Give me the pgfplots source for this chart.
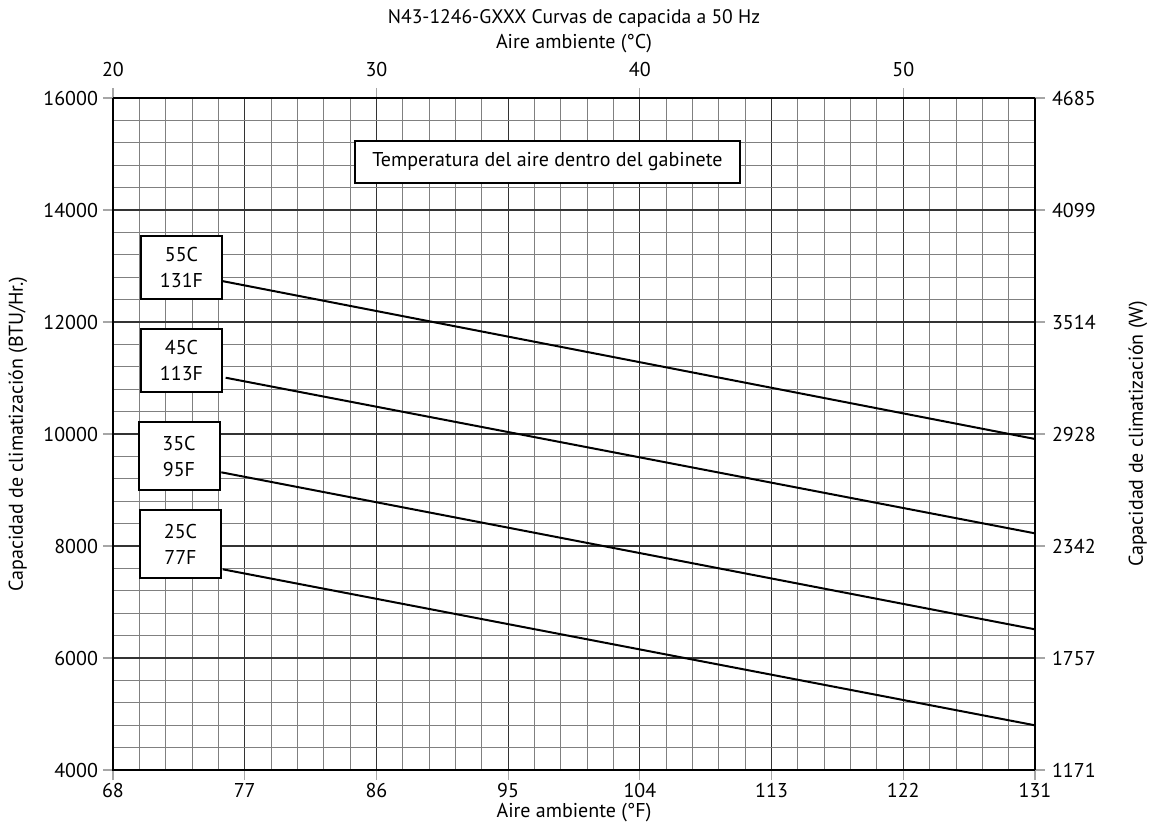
\documentclass[border=0pt]{standalone}
\usepackage{pgfplots}
\pgfplotsset{compat=1.18}
\usepackage{fontspec}
\setmainfont{PT Sans}
\begin{document}
\begin{tikzpicture}
\useasboundingbox (-56.5pt,-33.5pt) rectangle (519pt,385pt);
\begin{axis}[
 name=main,
 scale only axis, width=461pt, height=336pt,
 xmin=68, xmax=131, ymin=4000, ymax=16000,
 xtick={68,77,...,131}, ytick={4000,6000,...,16000},
 scaled ticks=false,
 minor x tick num=4, minor y tick num=4,
 grid=both,
 major grid style={black!80, line width=0.6pt},
 minor grid style={black!50, line width=0.45pt},
 xtick pos=bottom, ytick pos=left,
 tick align=outside,
 major tick length=5pt, minor tick length=0pt,
 tick style={black!35, line width=0.6pt},
 axis line style={black, line width=1pt},
 /pgf/number format/assume math mode=true,
 /pgf/number format/1000 sep={},
 ticklabel style={font=\fontsize{10}{12}\selectfont},
 xticklabel style={yshift=2pt},
 yticklabel style={xshift=1pt},
 xlabel={Aire ambiente (°F)},
 ylabel={Capacidad de climatización (BTU/Hr.)},
 label style={font=\fontsize{10}{12}\selectfont},
 xlabel style={at={(axis description cs:0.5,0)}, anchor=center, yshift=-21.5pt},
 ylabel style={at={(axis description cs:0,0.5)}, anchor=center, yshift=47.5pt},
 clip=false,
]
\addplot[black, line width=1pt] coordinates {(75.45,12732) (131,9911)};
\addplot[black, line width=1pt] coordinates {(75.70,11005) (131,8226)};
\addplot[black, line width=1pt] coordinates {(75.40,9316) (131,6512)};
\addplot[black, line width=1pt] coordinates {(75.50,7584) (131,4798)};
\tikzset{lbl/.style={draw=black, line width=1pt, fill=white, align=center, inner sep=0pt, minimum width=40.5pt, font=\fontsize{10}{13}\selectfont}}
\node[lbl, minimum height=31.5pt] at (axis cs:72.68,12973) {55C\\131F};
\node[lbl, minimum height=31.5pt] at (axis cs:72.68,11312) {45C\\113F};
\node[lbl, minimum height=34pt] at (axis cs:72.51,9607) {35C\\95F};
\node[lbl, minimum height=34pt] at (axis cs:72.61,8036) {25C\\77F};
\node[draw=black, line width=1pt, fill=white, inner sep=0pt, minimum width=192.5pt, minimum height=21pt, font=\fontsize{10}{12}\selectfont] at (axis cs:97.69,14857) {Temperatura del aire dentro del gabinete};
\node[font=\fontsize{9.8}{12}\selectfont] at ([yshift=40pt]rel axis cs:0.5,1) {N43-1246-GXXX Curvas de capacida a 50 Hz};
\end{axis}
\begin{axis}[
 scale only axis, width=461pt, height=336pt,
 xmin=68, xmax=131, ymin=4000, ymax=16000,
 scaled ticks=false,
 axis x line*=top, axis y line*=right,
 xtick={68,86,104,122}, xticklabels={20,30,40,50},
 ytick={4000,6000,...,16000},
 yticklabels={1171,1757,2342,2928,3514,4099,4685},
 tick align=outside,
 major tick length=5pt,
 tick style={black!35, line width=0.6pt},
 axis line style={black, line width=1pt},
 ticklabel style={font=\fontsize{10}{12}\selectfont},
 xticklabel style={yshift=2pt},
 xlabel={Aire ambiente (°C)},
 ylabel={Capacidad de climatización (W)},
 label style={font=\fontsize{10}{12}\selectfont},
 xlabel style={at={(axis description cs:0.5,1)}, anchor=center, yshift=27pt},
 ylabel style={at={(axis description cs:1,0.5)}, anchor=center, yshift=-51.5pt},
]
\end{axis}
\end{tikzpicture}
\end{document}
